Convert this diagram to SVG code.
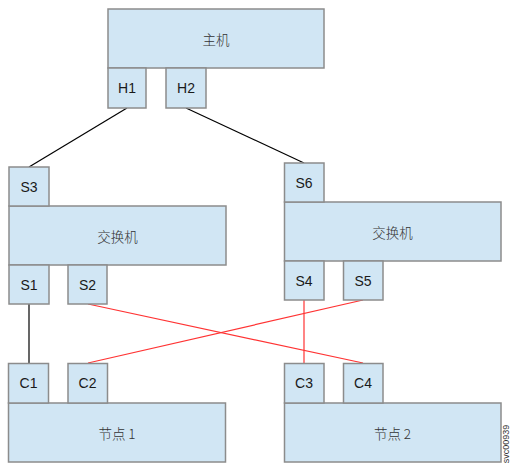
<svg xmlns="http://www.w3.org/2000/svg" width="512" height="471" viewBox="0 0 512 471">
<style>
.b{fill:#d1e6f4;stroke:#8c8c8c;stroke-width:1.5}
.t{font-family:"Liberation Sans","Noto Sans CJK SC",sans-serif;font-size:14px;fill:#1a1a1a;text-anchor:middle;dominant-baseline:central}
.c{font-family:"Noto Sans CJK SC","Liberation Sans",sans-serif;font-size:13.5px;font-weight:300;fill:#333;text-anchor:middle;dominant-baseline:central}
.k{stroke:#000;stroke-width:1.2;fill:none}
.r{stroke:#ff3333;stroke-width:1.2;fill:none}
</style>
<rect width="512" height="471" fill="#fff"/>
<g id="connectors">
<line class="k" x1="127" y1="108" x2="29" y2="167"/>
<line class="k" x1="186" y1="108" x2="304" y2="163"/>
<line class="k" x1="29" y1="304" x2="29" y2="363"/>
<line class="r" x1="88" y1="304" x2="363" y2="363"/>
<line class="r" x1="363" y1="300" x2="88" y2="363"/>
<line class="r" x1="304" y1="300" x2="304" y2="363"/>
</g>
<g id="host">
<rect class="b" x="108" y="9" width="216" height="59"/>
<text class="c" x="216" y="39">主机</text>
</g>
<g id="H1"><rect class="b" x="108" y="68" width="38" height="40"/><text class="t" x="127" y="88">H1</text></g>
<g id="H2"><rect class="b" x="166" y="68" width="40" height="40"/><text class="t" x="186" y="88">H2</text></g>
<g id="switch1">
<rect class="b" x="9" y="206" width="217" height="59"/>
<text class="c" x="117.5" y="236">交换机</text>
</g>
<g id="S3"><rect class="b" x="9" y="167" width="40" height="39"/><text class="t" x="29" y="187">S3</text></g>
<g id="S1"><rect class="b" x="9" y="265" width="40" height="39"/><text class="t" x="29" y="285">S1</text></g>
<g id="S2"><rect class="b" x="68" y="265" width="39" height="39"/><text class="t" x="87.5" y="285">S2</text></g>
<g id="switch2">
<rect class="b" x="284.5" y="202" width="216.5" height="59"/>
<text class="c" x="392.5" y="232">交换机</text>
</g>
<g id="S6"><rect class="b" x="284.5" y="163" width="39.5" height="39"/><text class="t" x="304" y="183">S6</text></g>
<g id="S4"><rect class="b" x="284.5" y="261" width="39.5" height="39"/><text class="t" x="304" y="281">S4</text></g>
<g id="S5"><rect class="b" x="343.5" y="261" width="39.5" height="39"/><text class="t" x="363" y="281">S5</text></g>
<g id="node1">
<rect class="b" x="8.5" y="403" width="217" height="59"/>
<text class="c" x="117" y="432.5">节点 1</text>
</g>
<g id="C1"><rect class="b" x="8.5" y="363.5" width="40" height="39.5"/><text class="t" x="28.5" y="383">C1</text></g>
<g id="C2"><rect class="b" x="68" y="363.5" width="39.5" height="39.5"/><text class="t" x="87.5" y="383">C2</text></g>
<g id="node2">
<rect class="b" x="284.5" y="403" width="216.5" height="59"/>
<text class="c" x="392.5" y="432.5">节点 2</text>
</g>
<g id="C3"><rect class="b" x="284.5" y="363.5" width="39.5" height="39.5"/><text class="t" x="304" y="383">C3</text></g>
<g id="C4"><rect class="b" x="343.5" y="363.5" width="39.5" height="39.5"/><text class="t" x="363" y="383">C4</text></g>
<text x="505.5" y="444" transform="rotate(-90 505.5 444)" style="font-family:'Liberation Sans',sans-serif;font-size:9px;fill:#333;text-anchor:middle;dominant-baseline:central">svc00939</text>
</svg>
